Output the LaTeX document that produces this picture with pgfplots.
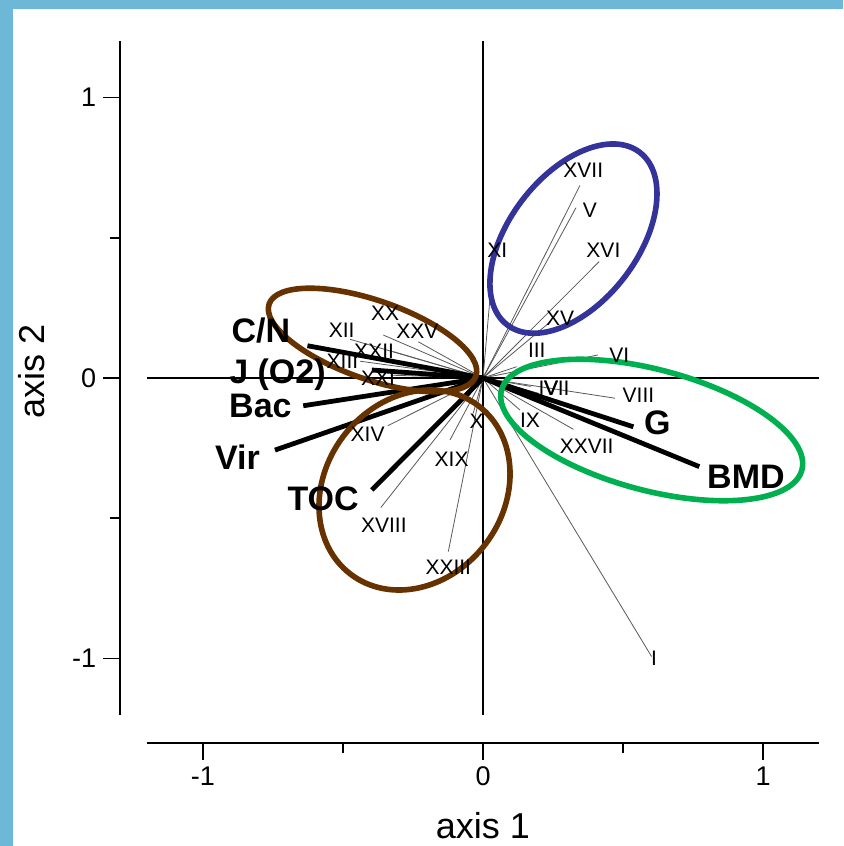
\documentclass[border=0pt]{standalone}
\usepackage{pgfplots}
\pgfplotsset{compat=1.18}
\usepackage{pgfplotstable}
\usepackage{fontspec}
\setmainfont{Liberation Sans}
\definecolor{frameblue}{RGB}{108,184,214}
\definecolor{ebrown}{RGB}{102,51,0}
\definecolor{eblue}{RGB}{51,51,153}
\definecolor{egreen}{RGB}{0,176,80}

% environmental variables: vector end (x,y), label centre (lx,ly)
\pgfplotstableread[col sep=comma,row sep=\\]{
x,y,lx,ly,label\\
-0.627,0.115,-0.793,0.168,C/N\\
-0.397,0.0285,-0.734,0.011,J (O2)\\
-0.642,-0.099,-0.795,-0.100,Bac\\
-0.743,-0.257,-0.877,-0.283,Vir\\
-0.397,-0.399,-0.571,-0.431,TOC\\
0.537,-0.174,0.623,-0.159,G\\
0.7725,-0.316,0.939,-0.352,BMD\\
}\envtab

% sites
\pgfplotstableread[col sep=comma,row sep=\\]{
x,y,lx,ly,label\\
0.602,-0.993,0.611,-1.000,I\\
0.120,0.040,0.192,0.100,III\\
0.170,-0.030,0.234,-0.036,IV\\
0.332,0.607,0.382,0.599,V\\
0.410,0.082,0.487,0.082,VI\\
0.200,-0.055,0.263,-0.036,VII\\
0.471,-0.072,0.555,-0.061,VIII\\
0.132,-0.114,0.168,-0.150,IX\\
-0.035,-0.126,-0.0225,-0.156,X\\
0.0275,0.314,0.051,0.456,XI\\
-0.475,0.138,-0.505,0.171,XII\\
-0.440,0.060,-0.502,0.059,XIII\\
-0.340,-0.170,-0.412,-0.199,XIV\\
0.240,0.200,0.275,0.213,XV\\
0.415,0.415,0.430,0.456,XVI\\
0.346,0.686,0.358,0.739,XVII\\
-0.365,-0.462,-0.354,-0.524,XVIII\\
-0.118,-0.221,-0.112,-0.289,XIX\\
-0.356,0.153,-0.350,0.231,XX\\
-0.330,0.010,-0.375,-0.002,XXI\\
-0.320,0.094,-0.389,0.097,XXII\\
-0.124,-0.619,-0.124,-0.675,XXIII\\
-0.231,0.129,-0.234,0.165,XXV\\
0.323,-0.183,0.370,-0.245,XXVII\\
}\sitetab

\begin{document}
\begin{tikzpicture}
\begin{axis}[
  set layers,
  clip=false,
  x=140pt, y=140.25pt,
  xmin=-1.296, xmax=1.2,
  ymin=-1.301, ymax=1.2,
  axis x line*=bottom,
  axis y line*=left,
  separate axis lines,
  axis line style={-, line width=0.8pt, black},
  x axis line style={shorten <=13.44pt},
  y axis line style={shorten <=14.17pt},
  xtick={-1,0,1}, ytick={-1,0,1},
  minor xtick={-0.5,0.5}, minor ytick={-0.5,0.5},
  tick align=outside,
  major tick length=8.5pt,
  minor tick length=5pt,
  tick style={line width=0.8pt, black},
  /pgf/number format/assume math mode=true,
  ticklabel style={font=\fontsize{13.5}{15}\selectfont},
  xlabel={axis 1},
  ylabel={axis 2},
  xlabel style={at={(axis description cs:0.519,-0.118)}, anchor=center, font=\fontsize{18}{21}\selectfont},
  ylabel style={at={(axis description cs:-0.126,0.529)}, anchor=center, font=\fontsize{18}{21}\selectfont},
]
\begin{pgfonlayer}{axis background}
\fill[frameblue] (axis cs:-1.725,-1.6684) rectangle (axis cs:1.2857,1.3476);
\fill[white] (axis cs:-1.6786,-1.6684) rectangle (axis cs:1.2857,1.3155);
\end{pgfonlayer}

% cross hair
\addplot[black, line width=0.8pt] coordinates {(-1.2,0) (1.2,0)};
\addplot[black, line width=0.8pt] coordinates {(0,-1.2) (0,1.2)};

% site vectors
\addplot[gray!70!black, line width=0.4pt, quiver={u=\thisrow{x}, v=\thisrow{y}}]
  table[x expr=0, y expr=0] {\sitetab};
% environmental vectors
\addplot[black, line width=2.4pt, quiver={u=\thisrow{x}, v=\thisrow{y}}]
  table[x expr=0, y expr=0] {\envtab};

% site labels
\addplot[only marks, mark=none, nodes near coords, point meta=explicit symbolic,
  every node near coord/.append style={anchor=center, inner sep=0pt, font=\fontsize{10.5}{12}\selectfont}]
  table[x=lx, y=ly, meta=label] {\sitetab};
% environmental labels
\addplot[only marks, mark=none, nodes near coords, point meta=explicit symbolic,
  every node near coord/.append style={anchor=center, inner sep=0pt, font=\fontsize{17}{19}\selectfont\bfseries}]
  table[x=lx, y=ly, meta=label] {\envtab};

% grouping ellipses
\draw[eblue, line width=2.8pt] (axis cs:0.323,0.497) ellipse [x radius=54.4pt, y radius=32pt, rotate=52.4];
\draw[egreen, line width=2.8pt] (axis cs:0.6025,-0.1854) ellipse [x radius=77.7pt, y radius=30.2pt, rotate=-14.9];
\draw[ebrown, line width=2.8pt] (axis cs:-0.3946,0.1355) ellipse [x radius=54.75pt, y radius=19.7pt, rotate=-19.2];
\draw[ebrown, line width=2.8pt] (axis cs:-0.2446,-0.3993) ellipse [x radius=52.85pt, y radius=44.6pt, rotate=52.9];
\end{axis}
\end{tikzpicture}
\end{document}
